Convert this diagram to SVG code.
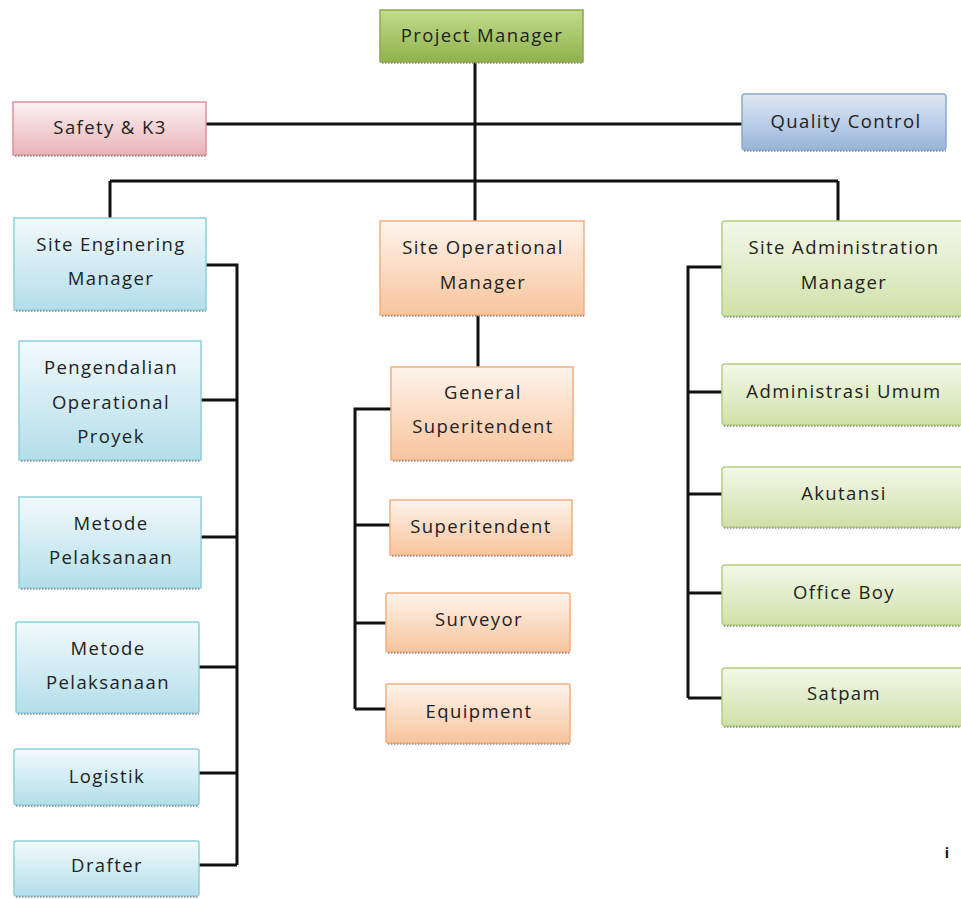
<svg xmlns="http://www.w3.org/2000/svg" width="961" height="899" viewBox="0 0 961 899">
<defs>
<linearGradient id="gPM" x1="0" y1="0" x2="0" y2="1"><stop offset="0" stop-color="#c2dc8c"/><stop offset="1" stop-color="#8fb24c"/></linearGradient>
<linearGradient id="gPink" x1="0" y1="0" x2="0" y2="1"><stop offset="0" stop-color="#fcf1f2"/><stop offset="1" stop-color="#e9b3b7"/></linearGradient>
<linearGradient id="gQC" x1="0" y1="0" x2="0" y2="1"><stop offset="0" stop-color="#dfe8f4"/><stop offset="1" stop-color="#98b5da"/></linearGradient>
<linearGradient id="gBlue" x1="0" y1="0" x2="0" y2="1"><stop offset="0" stop-color="#f2fafc"/><stop offset="1" stop-color="#b3deea"/></linearGradient>
<linearGradient id="gOr" x1="0" y1="0" x2="0" y2="1"><stop offset="0" stop-color="#fef4ec"/><stop offset="1" stop-color="#f8c49c"/></linearGradient>
<linearGradient id="gGr" x1="0" y1="0" x2="0" y2="1"><stop offset="0" stop-color="#f4f8ea"/><stop offset="1" stop-color="#cfe1a9"/></linearGradient>
</defs>
<style>
text{font-family:"Open Sans","Liberation Sans",sans-serif;font-size:18.5px;letter-spacing:1.4px;fill:#222;text-anchor:middle}
.pm{fill:url(#gPM);stroke:#8aaa48;stroke-width:1.5}
.pk{fill:url(#gPink);stroke:#d8959a;stroke-width:1.5}
.qc{fill:url(#gQC);stroke:#8ca9d1;stroke-width:1.5}
.bl{fill:url(#gBlue);stroke:#8fd0dc;stroke-width:1.5}
.or{fill:url(#gOr);stroke:#f3ae7e;stroke-width:1.5}
.gr{fill:url(#gGr);stroke:#b5d07e;stroke-width:1.5}
.sh{fill:none;stroke:#8a8a8a;stroke-width:1.5;stroke-dasharray:1.5 1.5}
.ln{fill:none;stroke:#111;stroke-width:3}
</style>
<g id="connectors">
<path class="ln" d="M475 62V221M206 124H742M110 181H838M110 181V218M838 181V221"/>
<path class="ln" d="M206 265H237V865M201 400H237M201 537H237M199 667H237M199 773H237M199 865H237"/>
<path class="ln" d="M478 315V367M391 409H355V709M390 525H355M386 623H355M386 709H355"/>
<path class="ln" d="M722 267H688V698M722 392H688M722 494H688M722 593H688M722 698H688"/>
</g>
<g id="pm"><rect class="pm" x="380" y="10" width="203" height="52"/><line class="sh" x1="382" y1="63" x2="583" y2="63"/><text x="482" y="42">Project Manager</text></g>
<g id="safety"><rect class="pk" x="13" y="102" width="193" height="53"/><line class="sh" x1="15" y1="156" x2="206" y2="156"/><text x="110" y="134">Safety &amp; K3</text></g>
<g id="qc"><rect class="qc" x="742" y="94" width="204" height="56" rx="3"/><line class="sh" x1="744" y1="151" x2="946" y2="151"/><text x="846" y="128">Quality Control</text></g>
<g id="sem"><rect class="bl" x="14" y="218" width="192" height="92"/><line class="sh" x1="16" y1="311" x2="206" y2="311"/><text x="111" y="251">Site Enginering</text><text x="111" y="285">Manager</text></g>
<g id="pop"><rect class="bl" x="19" y="341" width="182" height="119"/><line class="sh" x1="21" y1="461" x2="201" y2="461"/><text x="111" y="374">Pengendalian</text><text x="111" y="409">Operational</text><text x="111" y="443">Proyek</text></g>
<g id="mp1"><rect class="bl" x="19" y="497" width="182" height="91"/><line class="sh" x1="21" y1="589" x2="201" y2="589"/><text x="111" y="530">Metode</text><text x="111" y="564">Pelaksanaan</text></g>
<g id="mp2"><rect class="bl" x="16" y="622" width="183" height="91" rx="2"/><line class="sh" x1="18" y1="714" x2="199" y2="714"/><text x="108" y="655">Metode</text><text x="108" y="689">Pelaksanaan</text></g>
<g id="log"><rect class="bl" x="14" y="749" width="185" height="56" rx="2"/><line class="sh" x1="16" y1="806" x2="199" y2="806"/><text x="107" y="783">Logistik</text></g>
<g id="drf"><rect class="bl" x="14" y="841" width="185" height="55" rx="2"/><line class="sh" x1="16" y1="897" x2="199" y2="897"/><text x="107" y="872">Drafter</text></g>
<g id="som"><rect class="or" x="380" y="221" width="204" height="94"/><line class="sh" x1="382" y1="316" x2="584" y2="316"/><text x="483" y="254">Site Operational</text><text x="483" y="289">Manager</text></g>
<g id="gs"><rect class="or" x="391" y="367" width="182" height="93"/><line class="sh" x1="393" y1="461" x2="573" y2="461"/><text x="483" y="399">General</text><text x="483" y="433">Superitendent</text></g>
<g id="sup"><rect class="or" x="390" y="500" width="182" height="55"/><line class="sh" x1="392" y1="556" x2="572" y2="556"/><text x="481" y="533">Superitendent</text></g>
<g id="svy"><rect class="or" x="386" y="593" width="184" height="59" rx="2"/><line class="sh" x1="388" y1="653" x2="570" y2="653"/><text x="479" y="626">Surveyor</text></g>
<g id="eqp"><rect class="or" x="386" y="684" width="184" height="59" rx="2"/><line class="sh" x1="388" y1="744" x2="570" y2="744"/><text x="479" y="718">Equipment</text></g>
<g id="sam"><rect class="gr" x="722" y="221" width="245" height="95" rx="3"/><line class="sh" x1="724" y1="317" x2="961" y2="317"/><text x="844" y="254">Site Administration</text><text x="844" y="289">Manager</text></g>
<g id="adm"><rect class="gr" x="722" y="364" width="245" height="61" rx="3"/><line class="sh" x1="724" y1="426" x2="961" y2="426"/><text x="844" y="398">Administrasi Umum</text></g>
<g id="aku"><rect class="gr" x="722" y="467" width="245" height="60" rx="3"/><line class="sh" x1="724" y1="528" x2="961" y2="528"/><text x="844" y="500">Akutansi</text></g>
<g id="ob"><rect class="gr" x="722" y="565" width="245" height="60" rx="3"/><line class="sh" x1="724" y1="626" x2="961" y2="626"/><text x="844" y="599">Office Boy</text></g>
<g id="stp"><rect class="gr" x="722" y="668" width="245" height="58" rx="3"/><line class="sh" x1="724" y1="727" x2="961" y2="727"/><text x="844" y="700">Satpam</text></g>
<text x="947" y="858" style="font-size:14px;font-weight:bold;letter-spacing:0;fill:#111">i</text>
</svg>
